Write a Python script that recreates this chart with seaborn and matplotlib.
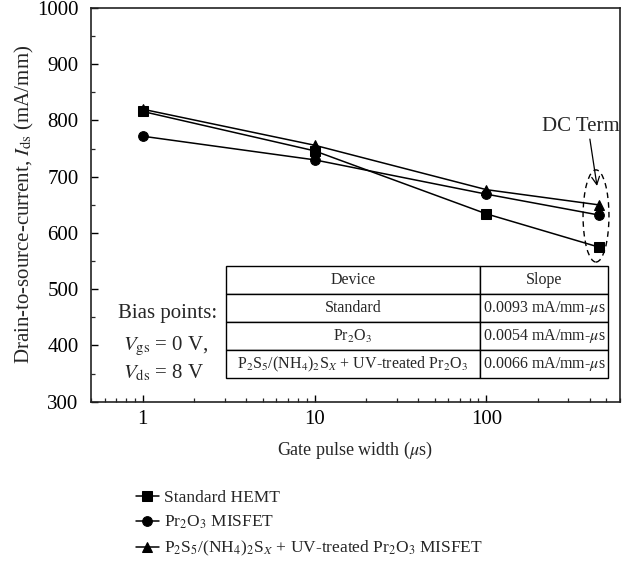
import matplotlib
matplotlib.use("Agg")
import matplotlib.pyplot as plt
import seaborn as sns
import pandas as pd
from matplotlib.patches import Ellipse
from matplotlib.ticker import FixedLocator, MultipleLocator, LogLocator, NullFormatter

# ---- data ----
pulse_width = [1, 10, 100, 450]
standard = [816, 746, 634, 575]
pr2o3 = [772, 730, 669, 632]
treated = [820, 756, 677, 650]
series_labels = ["Standard HEMT",
                 "Pr$_2$O$_3$ MISFET",
                 "P$_2$S$_5$/(NH$_4$)$_2$S$_X$ + UV-treated Pr$_2$O$_3$ MISFET"]
table_cols = ["Device", "Slope"]
table_devices = ["Standard", "Pr$_2$O$_3$", "P$_2$S$_5$/(NH$_4$)$_2$S$_X$ + UV-treated Pr$_2$O$_3$"]
table_slopes = ["0.0093 mA/mm-$\\mu$s", "0.0054 mA/mm-$\\mu$s", "0.0066 mA/mm-$\\mu$s"]
y_ticks = [300, 400, 500, 600, 700, 800, 900, 1000]
x_ticks = [1, 10, 100]

sns.set_style("ticks")
plt.rcParams["font.family"] = ["Liberation Serif", "DejaVu Serif"]
plt.rcParams["mathtext.fontset"] = "stix"

df = pd.DataFrame({
    "x": pulse_width * 3,
    "y": standard + pr2o3 + treated,
    "series": [series_labels[0]] * 4 + [series_labels[1]] * 4 + [series_labels[2]] * 4,
})

fig = plt.figure(figsize=(6.33, 5.66), dpi=100)
ax = fig.add_axes([0.1438, 0.2903, 0.9795 - 0.1438, 0.9859 - 0.2903])

sns.lineplot(data=df, x="x", y="y", hue="series", style="series",
             palette=["black"] * 3, markers=["s", "o", "^"], dashes=False,
             markersize=7, linewidth=1.1, markeredgecolor="black",
             ax=ax, legend=False, hue_order=series_labels, style_order=series_labels)

ax.set_xscale("log")
ax.set_xlim(0.5, 600)
ax.set_ylim(300, 1000)
ax.xaxis.set_major_locator(FixedLocator(x_ticks))
ax.set_xticklabels([str(t) for t in x_ticks])
ax.xaxis.set_minor_locator(LogLocator(base=10, subs=[2, 3, 4, 5, 6, 7, 8, 9]))
ax.xaxis.set_minor_formatter(NullFormatter())
ax.set_yticks(y_ticks)
ax.yaxis.set_minor_locator(MultipleLocator(50))
ax.tick_params(which="major", direction="in", length=5, width=1, labelsize=15, colors="black")
ax.tick_params(which="minor", direction="in", length=3, width=0.9)
ax.tick_params(axis="y", which="major", pad=9)
ax.tick_params(axis="x", which="major", pad=6)
for s in ax.spines.values():
    s.set_linewidth(1.2)
    s.set_color("#222222")

ax.set_xlabel("Gate pulse width ($\\mu$s)", fontsize=13, labelpad=8)
ax.set_ylabel("Drain-to-source-current, $I_{\\mathrm{ds}}$ (mA/mm)", fontsize=15, labelpad=1)

# table
cell_text = [[d, s] for d, s in zip(table_devices, table_slopes)]
tbl = ax.table(cellText=cell_text, colLabels=table_cols, cellLoc="center",
               colWidths=[0.665, 0.335],
               bbox=[0.2552, 0.0594, 0.9773 - 0.2552, 0.3447 - 0.0594])
tbl.auto_set_font_size(False)
tbl.set_fontsize(11.5)
for (r, c), cell in tbl.get_celld().items():
    cell.set_linewidth(1.0)
    cell.set_edgecolor("black")
    cell.set_facecolor("white")
    cell.PAD = 0.01
    cell.get_text().set_fontsize(11.5)
tbl.set_zorder(5)

# bias annotation
ax.text(0.051, 0.225, "Bias points:", transform=ax.transAxes, ha="left", va="center", fontsize=15)
ax.text(0.060, 0.1415, "$V_{\\mathrm{gs}}$ = 0 V,", transform=ax.transAxes, ha="left", va="center", fontsize=15)
ax.text(0.060, 0.073, "$V_{\\mathrm{ds}}$ = 8 V", transform=ax.transAxes, ha="left", va="center", fontsize=15)

# DC term
ax.add_patch(Ellipse((0.9546, 0.4717), 0.049, 0.234, transform=ax.transAxes,
                     fill=False, linestyle=(0, (4, 3)), linewidth=1.0, edgecolor="black"))
ax.text(0.926, 0.700, "DC Term", transform=ax.transAxes, ha="center", va="center", fontsize=15)
ax.annotate("", xy=(0.9565, 0.548), xycoords="axes fraction",
            xytext=(0.943, 0.667), textcoords="axes fraction",
            arrowprops=dict(arrowstyle="->", color="black", lw=0.9,
                            shrinkA=0, shrinkB=0, mutation_scale=14))

# legend
handles = ax.get_lines()[:3]
fig.legend(handles, series_labels, loc="upper left", bbox_to_anchor=(136 / 633, 1 - 490 / 566),
           frameon=False, fontsize=12.5, handlelength=1.3, handletextpad=0.3,
           labelspacing=0.45, borderaxespad=0, borderpad=0)

fig.savefig("out.png", dpi=100)
